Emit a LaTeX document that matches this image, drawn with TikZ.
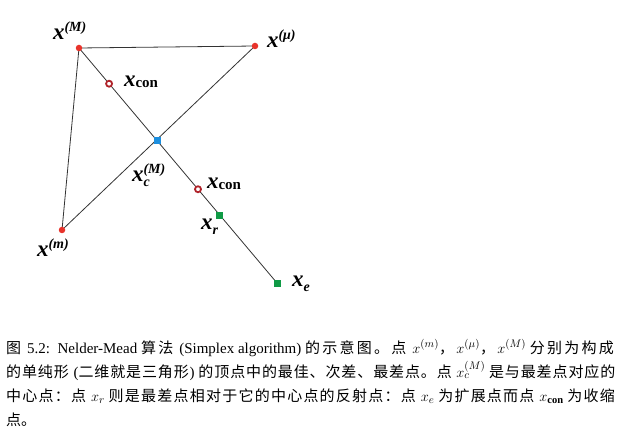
\documentclass[tikz,border=0pt]{standalone}
\usepackage{fontspec}
\setmainfont{Liberation Serif}
\newfontfamily\cjk{Noto Sans CJK SC}
\usetikzlibrary{calc,positioning}
\definecolor{vtxRed}  {HTML}{E8332B}
\definecolor{ctrBlue} {HTML}{1C8FDF}
\definecolor{refGreen}{HTML}{0F9A45}
\definecolor{conRed}  {HTML}{B0232A}
\definecolor{edgeGray}{HTML}{333333}
% chinese runs, with stretch between the characters
\makeatletter
\newcommand{\zh}[1]{{\cjk\zh@x#1\zh@end}}
\def\zh@end{\zh@end}
\def\zh@x#1{\ifx#1\zh@end\else#1\hskip0pt plus 1fil\expandafter\zh@x\fi}
\makeatother
\newcommand{\bx}{{\fontsize{23}{23}\selectfont\bfseries\itshape x}}
\newcommand{\bsup}[1]{\raisebox{8.5pt}{\fontsize{14}{14}\selectfont\bfseries\itshape #1}}
\newcommand{\bsub}[1]{\raisebox{-5pt}{\fontsize{14}{14}\selectfont\bfseries\itshape #1}}
\newcommand{\bcon}{\raisebox{-1pt}{\fontsize{15}{15}\selectfont\bfseries con}}
\tikzset{
  edge/.style={draw=edgeGray,line width=0.8pt},
  vtx/.style={circle,fill=vtxRed,draw=none,minimum size=6.5pt,inner sep=0pt},
  ctr/.style={rectangle,fill=ctrBlue,draw=none,minimum size=7pt,inner sep=0pt},
  refl/.style={rectangle,fill=refGreen,draw=none,minimum size=7pt,inner sep=0pt},
  contr/.style={circle,draw=conRed,fill=white,line width=1.8pt,minimum size=6pt,inner sep=0pt},
  lab/.style={anchor=base west,inner sep=0pt,outer sep=0pt},
  capline/.style={anchor=base west,inner sep=0pt,font=\fontsize{15}{25}\selectfont},
}
\begin{document}
\begin{tikzpicture}[x=1pt,y=-1pt]
\useasboundingbox (0,0) rectangle (634,438);

% simplex vertices and the reflection line
\coordinate (pM)  at (79,48);
\coordinate (pmu) at (255,46);
\coordinate (pm)  at (62,230);
\coordinate (pe)  at (277,283);
\coordinate (pc)  at ($(pM)!0.394!(pe)$);
\coordinate (pcon1) at ($(pM)!0.152!(pe)$);
\coordinate (pcon2) at ($(pM)!0.601!(pe)$);
\coordinate (pr)  at ($(pM)!0.712!(pe)$);

\draw[edge] (pM) -- (pmu) -- (pm) -- cycle;
\draw[edge] (pM) -- (pe);

\node[vtx]   (xM)    at (pM)  {};
\node[vtx]   (xmu)   at (pmu) {};
\node[vtx]   (xm)    at (pm)  {};
\node[ctr]   (xc)    at (pc)  {};
\node[contr] (xcon1) at (pcon1) {};
\node[contr] (xcon2) at (pcon2) {};
\node[refl]  (xr)    at (pr)  {};
\node[refl]  (xe)    at (pe)  {};

\node[lab] (lM)    at (53,40)  {\bx\bsup{(M)}};
\node[lab] (lmu)   at (267,48) {\bx\bsup{(μ)}};
\node[lab] (lm)    at (37,257) {\bx\bsup{(m)}};
\node[lab] (lcon1) at (124,87) {\bx\bcon};
\node[lab] (lc)    at (132,182){\bx\rlap{\bsub{c}}\bsup{(M)}};
\node[lab] (lcon2) at (207,189){\bx\bcon};
\node[lab] (lr)    at (201,230){\bx\bsub{r}};
\node[lab] (le)    at (292,287){\bx\bsub{e}};

% caption
\node[capline] (cap1) at (6,353) {\makebox[610pt][s]{\zh{图} 5.2:\ \ Nelder-Mead \zh{算法} (Simplex algorithm) \zh{的示意图。点} $x^{(m)}$\zh{，}$x^{(\mu)}$\zh{，}$x^{(M)}$ \zh{分别为构成}}};
\node[capline] (cap2) at (6,377) {\makebox[610pt][s]{\zh{的单纯形} (\zh{二维就是三角形}) \zh{的顶点中的最佳、次差、最差点。点} $x_c^{(M)}$ \zh{是与最差点对应的}}};
\node[capline] (cap3) at (6,401) {\makebox[610pt][s]{\zh{中心点：点} $x_r$ \zh{则是最差点相对于它的中心点的反射点：点} $x_e$ \zh{为扩展点而点} $x_{\mathbf{con}}$ \zh{为收缩}}};
\node[capline] (cap4) at (6,425) {\zh{点。}};

\end{tikzpicture}
\end{document}
